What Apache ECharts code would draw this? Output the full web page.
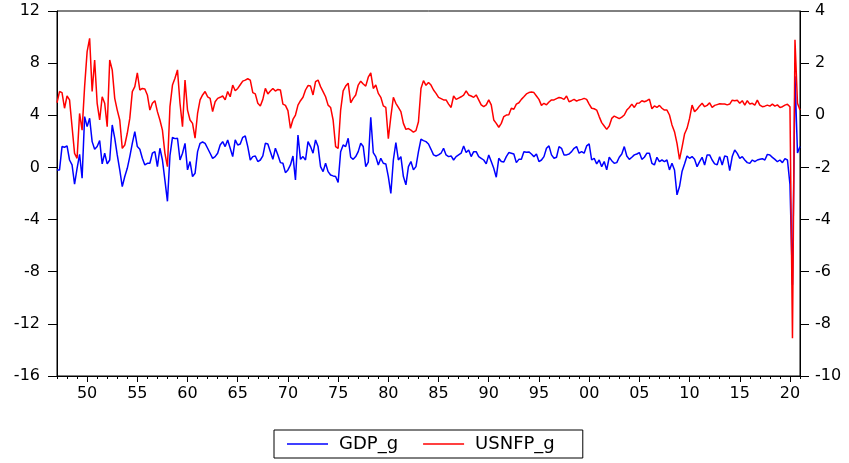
<!DOCTYPE html>
<html>
<head>
<meta charset="utf-8">
<script src="https://cdn.jsdelivr.net/npm/echarts@6.0.0/dist/echarts.min.js"></script>
<style>
  html, body { margin: 0; padding: 0; background: #fff; }
  #main { width: 849px; height: 463px; }
</style>
</head>
<body>
<div id="main"></div>
<script>
// quarterly growth, 1947Q1 .. 2021Q1
const gdpG = [
  -0.19, -0.19, 1.60, 1.55, 1.65, 0.57, 0.19, -1.29, -0.07, 1.01,
  -0.83, 3.90, 3.13, 3.77, 1.98, 1.39, 1.60, 2.06, 0.27, 1.09,
  0.27, 0.57, 3.26, 2.24, 0.96, -0.19, -1.47, -0.70, -0.07, 0.83,
  1.85, 2.75, 1.60, 1.39, 0.70, 0.19, 0.32, 0.32, 1.09, 1.21,
  0.06, 1.47, 0.57, -1.00, -2.60, 0.90, 2.30, 2.21, 2.24, 0.57,
  1.09, 1.85, -0.19, 0.45, -0.70, -0.45, 1.21, 1.85, 1.95, 1.85,
  1.47, 1.09, 0.70, 0.83, 1.09, 1.72, 1.98, 1.60, 2.11, 1.47,
  0.83, 2.11, 1.72, 1.80, 2.31, 2.41, 1.60, 0.57, 0.83, 0.88,
  0.45, 0.57, 0.88, 1.85, 1.80, 1.21, 0.62, 1.47, 0.96, 0.37,
  0.32, -0.40, -0.19, 0.19, 0.88, -0.96, 2.49, 0.62, 0.83, 0.57,
  1.98, 1.60, 1.09, 2.11, 1.60, 0.06, -0.32, 0.32, -0.32, -0.58,
  -0.65, -0.70, -1.16, 1.21, 1.72, 1.60, 2.24, 0.78, 0.62, 0.83,
  1.21, 1.85, 1.60, 0.06, 0.40, 3.85, 1.14, 0.83, 0.19, 0.70,
  0.32, 0.27, -0.70, -2.00, 0.57, 1.90, 0.57, 0.83, -0.70, -1.34,
  0.06, 0.45, -0.19, 0.06, 1.21, 2.16, 2.06, 1.98, 1.80, 1.39,
  0.96, 0.88, 0.96, 1.09, 1.47, 0.96, 0.83, 0.88, 0.57, 0.83,
  0.96, 1.09, 1.65, 1.14, 1.34, 0.83, 1.21, 1.21, 0.83, 0.70,
  0.57, 0.27, 0.96, 0.45, -0.07, -0.75, 0.70, 0.45, 0.42, 0.83,
  1.14, 1.09, 1.03, 0.37, 0.62, 0.62, 1.21, 1.16, 1.19, 1.03,
  0.83, 1.03, 0.45, 0.57, 0.83, 1.47, 1.65, 0.96, 0.70, 0.78,
  1.60, 1.47, 0.96, 0.96, 1.03, 1.21, 1.47, 1.60, 1.09, 1.21,
  1.09, 1.65, 1.80, 0.57, 0.70, 0.27, 0.57, 0.06, 0.45, -0.19,
  0.78, 0.52, 0.32, 0.37, 0.78, 1.03, 1.60, 0.88, 0.62, 0.78,
  0.96, 1.03, 1.14, 0.62, 0.78, 1.09, 1.09, 0.32, 0.19, 0.78,
  0.45, 0.57, 0.45, 0.57, -0.19, 0.32, -0.19, -2.10, -1.47, -0.32,
  0.27, 0.88, 0.70, 0.83, 0.62, 0.06, 0.45, 0.78, 0.19, 0.96,
  0.96, 0.57, 0.27, 0.20, 0.83, 0.19, 0.88, 0.83, -0.25, 0.83,
  1.34, 1.08, 0.70, 0.83, 0.57, 0.37, 0.31, 0.57, 0.44, 0.57,
  0.62, 0.67, 0.57, 1.00, 0.95, 0.77, 0.62, 0.44, 0.57, 0.37,
  0.67, 0.57, -1.30, -9.00, 7.00, 1.10, 1.60
];

const usnfpG = [
  0.48, 0.91, 0.87, 0.27, 0.74, 0.59, -0.44, -1.46, -1.65, 0.07,
  -0.57, 1.10, 2.44, 2.95, 0.91, 2.12, 0.46, -0.18, 0.71, 0.46,
  -0.44, 2.12, 1.74, 0.65, 0.20, -0.18, -1.27, -1.14, -0.69, -0.12,
  0.91, 1.10, 1.63, 0.97, 1.03, 1.01, 0.78, 0.20, 0.46, 0.56,
  0.14, -0.18, -0.57, -1.46, -1.97, 0.33, 1.16, 1.42, 1.74, 0.46,
  -0.44, 1.35, 0.20, -0.18, -0.31, -0.88, 0.07, 0.59, 0.78, 0.91,
  0.71, 0.65, 0.14, 0.52, 0.65, 0.69, 0.74, 0.59, 0.91, 0.71,
  1.16, 0.94, 1.03, 1.17, 1.31, 1.35, 1.40, 1.35, 0.87, 0.82,
  0.46, 0.36, 0.61, 1.03, 0.82, 0.93, 1.03, 0.93, 0.99, 0.97,
  0.43, 0.38, 0.18, -0.50, -0.16, 0.01, 0.39, 0.56, 0.69, 0.97,
  1.14, 1.12, 0.78, 1.29, 1.35, 1.10, 0.91, 0.71, 0.39, 0.30,
  -0.18, -1.20, -1.27, 0.20, 0.94, 1.12, 1.23, 0.48, 0.65, 0.78,
  1.16, 1.31, 1.20, 1.12, 1.46, 1.63, 1.03, 1.16, 0.84, 0.69,
  0.36, 0.30, -0.90, -0.05, 0.69, 0.46, 0.30, 0.14, -0.31, -0.54,
  -0.51, -0.57, -0.65, -0.59, -0.25, 1.03, 1.33, 1.15, 1.26, 1.16,
  0.97, 0.84, 0.69, 0.64, 0.59, 0.59, 0.43, 0.30, 0.74, 0.61,
  0.66, 0.71, 0.77, 0.94, 0.78, 0.74, 0.69, 0.78, 0.59, 0.40,
  0.33, 0.40, 0.59, 0.40, -0.18, -0.31, -0.46, -0.31, -0.05, 0.01,
  0.02, 0.27, 0.23, 0.43, 0.48, 0.61, 0.71, 0.82, 0.87, 0.89,
  0.87, 0.74, 0.61, 0.38, 0.46, 0.40, 0.51, 0.59, 0.59, 0.64,
  0.68, 0.66, 0.61, 0.74, 0.52, 0.56, 0.61, 0.54, 0.59, 0.61,
  0.65, 0.61, 0.43, 0.27, 0.25, 0.20, -0.05, -0.28, -0.41, -0.54,
  -0.41, -0.12, -0.03, -0.08, -0.13, -0.07, 0.01, 0.20, 0.30, 0.43,
  0.30, 0.46, 0.47, 0.56, 0.52, 0.56, 0.62, 0.25, 0.36, 0.30,
  0.38, 0.27, 0.20, 0.20, 0.01, -0.37, -0.63, -1.08, -1.69, -1.23,
  -0.72, -0.50, -0.12, 0.39, 0.14, 0.23, 0.36, 0.46, 0.33, 0.38,
  0.48, 0.30, 0.38, 0.41, 0.44, 0.43, 0.43, 0.40, 0.43, 0.58,
  0.56, 0.58, 0.46, 0.56, 0.39, 0.56, 0.43, 0.46, 0.39, 0.58,
  0.39, 0.33, 0.35, 0.39, 0.35, 0.43, 0.35, 0.40, 0.30, 0.33,
  0.39, 0.42, 0.33, -8.55, 2.90, 0.46, 0.20
];

const tickLabels = ['50', '55', '60', '65', '70', '75', '80', '85', '90', '95',
  '00', '05', '10', '15', '20'];

const quarters = [];
for (let y = 1947; y <= 2021; y++) {
  for (let q = 1; q <= 4; q++) {
    if (y === 2021 && q > 1) break;
    quarters.push(y + 'Q' + q);
  }
}

const FONT = 'DejaVu Sans';
const isYear = (v) => v.endsWith('Q1');
const isMajor = (v) => isYear(v) && tickLabels.indexOf(v.slice(2, 4)) >= 0;

const chart = echarts.init(document.getElementById('main'), null, { renderer: 'canvas' });

const option = {
  backgroundColor: '#ffffff',
  animation: false,
  grid: {
    left: 57, right: 49, top: 11, bottom: 87,
    show: true, borderColor: '#000', borderWidth: 1
  },
  legend: {
    left: 274, top: 430,
    padding: [5, 28, 5, 13],
    icon: 'rect',
    itemWidth: 41, itemHeight: 1.5, itemGap: 25,
    borderColor: '#000', borderWidth: 1,
    textStyle: { fontFamily: FONT, fontSize: 18, color: '#000', padding: [0, 0, 0, 6] },
    data: ['GDP_g', 'USNFP_g']
  },
  xAxis: [
    {
      type: 'category', data: quarters, boundaryGap: false,
      axisLine: { onZero: false, lineStyle: { color: '#000', width: 1 } },
      axisTick: { interval: (i, v) => isYear(v), length: 3, lineStyle: { color: '#000' } },
      axisLabel: { show: false },
      splitLine: { show: false }
    },
    {
      type: 'category', data: quarters, boundaryGap: false, position: 'bottom',
      axisLine: { show: false, onZero: false },
      axisTick: { interval: (i, v) => isMajor(v), length: 6, lineStyle: { color: '#000' } },
      axisLabel: {
        interval: (i, v) => isMajor(v),
        formatter: (v) => v.slice(2, 4),
        fontFamily: FONT, fontSize: 16, color: '#000', margin: 10
      },
      splitLine: { show: false }
    }
  ],
  yAxis: [
    {
      type: 'value', position: 'left', min: -16, max: 12, interval: 4,
      axisLine: { show: true, lineStyle: { color: '#000' } },
      axisTick: { show: true, length: 9, lineStyle: { color: '#000' } },
      axisLabel: { fontFamily: FONT, fontSize: 16, color: '#000', margin: 17 },
      splitLine: { show: false }
    },
    {
      type: 'value', position: 'right', min: -10, max: 4, interval: 2,
      axisLine: { show: true, lineStyle: { color: '#000' } },
      axisTick: { show: true, length: 9, lineStyle: { color: '#000' } },
      axisLabel: { fontFamily: FONT, fontSize: 16, color: '#000', margin: 15, align: 'left' },
      splitLine: { show: false }
    }
  ],
  series: [
    {
      name: 'GDP_g', type: 'line', xAxisIndex: 0, yAxisIndex: 0,
      data: gdpG, symbol: 'none', color: '#0000ff',
      lineStyle: { color: '#0000ff', width: 1.5 }
    },
    {
      name: 'USNFP_g', type: 'line', xAxisIndex: 0, yAxisIndex: 1,
      data: usnfpG, symbol: 'none', color: '#ff0000',
      lineStyle: { color: '#ff0000', width: 1.5 }
    }
  ]
};

chart.setOption(option);
</script>
</body>
</html>
